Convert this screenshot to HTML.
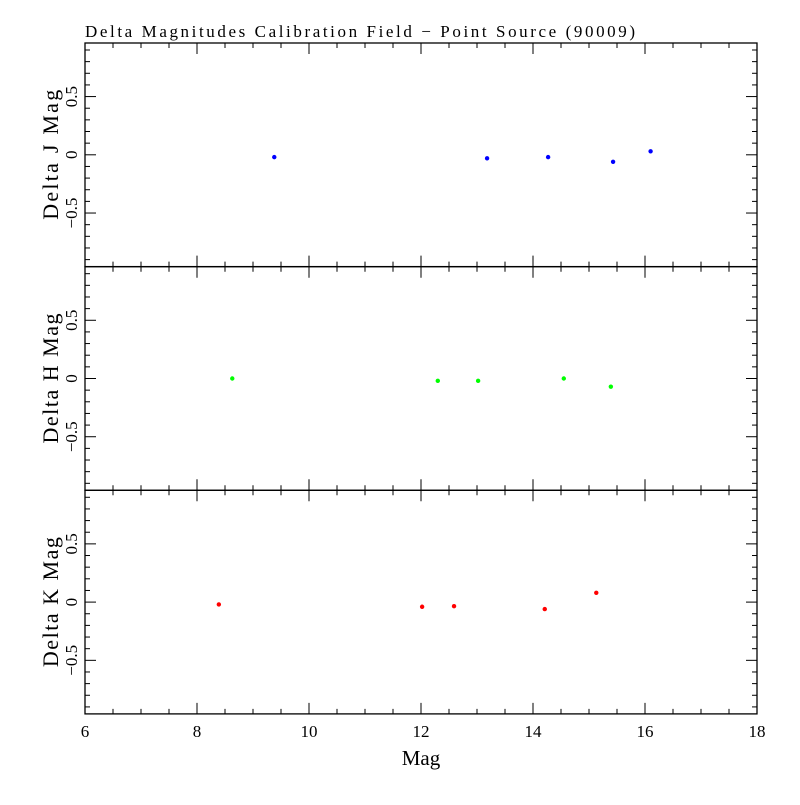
<!DOCTYPE html>
<html><head><meta charset="utf-8"><style>
body{margin:0;background:#fff}
svg text{font-family:"Liberation Serif",serif;fill:#000}
</style></head><body>
<svg id="c" width="800" height="800" xmlns="http://www.w3.org/2000/svg">
<text x="85" y="37" font-size="17" textLength="550" lengthAdjust="spacing">Delta Magnitudes Calibration Field − Point Source (90009)</text>
<g id="g"></g>
</svg>
<script>
const bands=["J","H","K"];
const colors=["#0000ff","#00ff00","#ff0000"];
const magJ=[9.38,13.18,14.27,15.43,16.1];
const dJ=[-0.02,-0.03,-0.02,-0.06,0.03];
const magH=[8.63,12.3,13.02,14.55,15.39];
const dH=[0.0,-0.02,-0.02,0.0,-0.07];
const magK=[8.39,12.02,12.59,14.21,15.13];
const dK=[-0.02,-0.04,-0.035,-0.06,0.08];
const xTicks=[6,8,10,12,14,16,18];
const yTicks=[-0.5,0,0.5];
const mags=[magJ,magH,magK], ds=[dJ,dH,dK];
const L=85,R=757,tops=[43,266.7,490.3],PH=223.6,XMIN=6,XMAX=18,YMAX=0.96;
const NS="http://www.w3.org/2000/svg";
const g=document.getElementById('g');
function X(v){return L+(v-XMIN)/(XMAX-XMIN)*(R-L);}
function Y(p,v){return tops[p]+PH/2-v/YMAX*(PH/2);}
function mk(t,a,parent){const e=document.createElementNS(NS,t);for(const k in a)e.setAttribute(k,a[k]);(parent||g).appendChild(e);return e;}
for(let p=0;p<3;p++){
  const fr=mk('rect',{x:L,y:tops[p],width:R-L,height:PH,fill:'none',stroke:'#000','stroke-width':1.3});
  
  
  for(let i=0;i<=24;i++){const v=XMIN+i*0.5,x=X(v),len=(i%4==0)?11:5;
    mk('line',{x1:x,x2:x,y1:tops[p]+PH,y2:tops[p]+PH-len,stroke:'#000'});
    mk('line',{x1:x,x2:x,y1:tops[p],y2:tops[p]+len,stroke:'#000'});}
  for(let i=-9;i<=9;i++){const v=i/10,y=Y(p,v),len=(i%5==0)?11:5;
    mk('line',{x1:L,x2:L+len,y1:y,y2:y,stroke:'#000'});
    mk('line',{x1:R,x2:R-len,y1:y,y2:y,stroke:'#000'});}
  yTicks.forEach(v=>{const y=Y(p,v);const t=mk('text',{x:0,y:0,'font-size':17,'text-anchor':'middle',transform:`translate(77,${y}) rotate(-90)`});
    t.textContent=v==0?'0':(v<0?'−0.5':'0.5');
    
    });
  const yt=mk('text',{x:0,y:0,'font-size':22,'text-anchor':'middle',textLength:130,lengthAdjust:'spacing',transform:`translate(58,${tops[p]+PH/2}) rotate(-90)`});
  yt.textContent='Delta '+bands[p]+' Mag';
  
  
  mags[p].forEach((m,i)=>{const c=mk('circle',{cx:X(m),cy:Y(p,ds[p][i]),r:2.2,fill:colors[p]});
    
    });
}
xTicks.forEach(v=>{const t=mk('text',{x:X(v),y:737,'font-size':17,'text-anchor':'middle'});t.textContent=v;
  
  });
const xt=mk('text',{x:421,y:765,'font-size':21,'text-anchor':'middle'});xt.textContent='Mag';


</script>
</body></html>
